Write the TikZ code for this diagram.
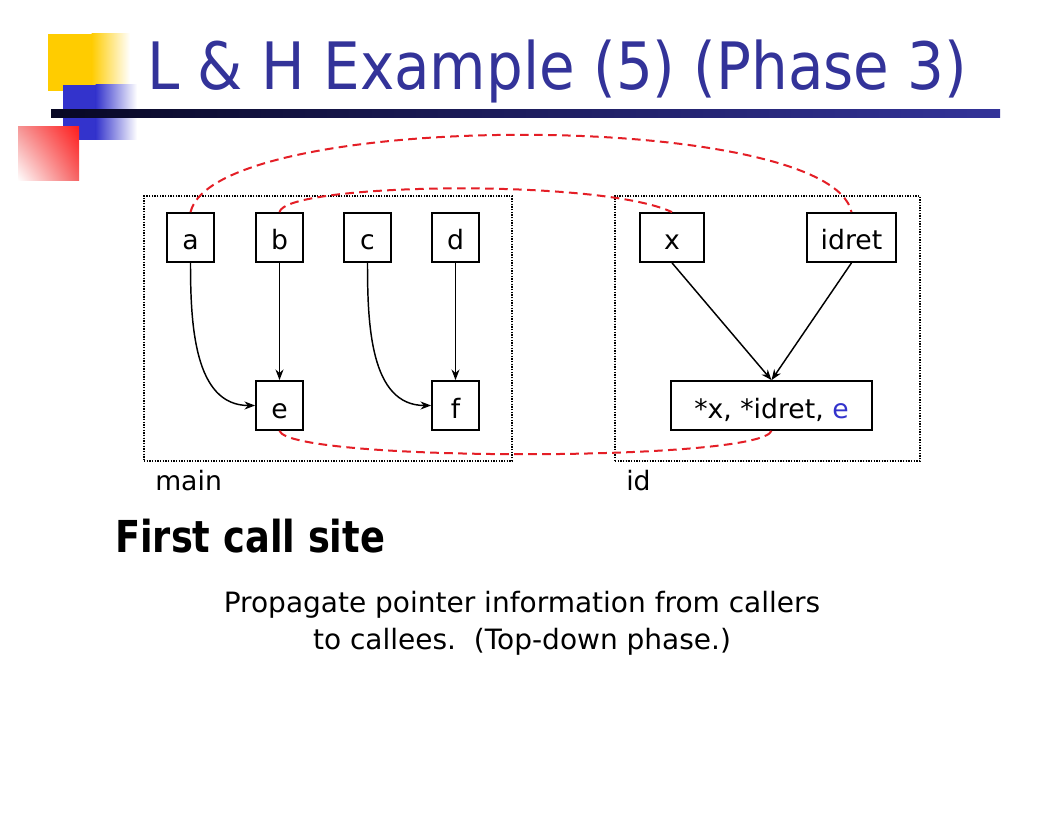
\documentclass[tikz,border=0pt]{standalone}
\usepackage{fontspec}
\setmainfont{DejaVu Sans}
\usetikzlibrary{arrows.meta,shadings}
\definecolor{titleblue}{HTML}{333399}
\definecolor{eblue}{HTML}{3333CC}
\definecolor{logoyellow}{HTML}{FFCC00}
\definecolor{logoblue}{HTML}{3333CC}
\definecolor{dashred}{HTML}{E41E26}
\definecolor{redul}{RGB}{245,150,150}
\definecolor{redur}{RGB}{255,30,30}
\definecolor{redlr}{RGB}{245,100,100}
\definecolor{linedark}{RGB}{8,8,36}
\tikzset{
  box/.style={draw, line width=1.3pt, inner sep=0pt, minimum width=35.25pt, minimum height=36.75pt,
    text height=19pt, text depth=0.25pt, font=\fontsize{20}{24}\selectfont},
  container/.style={draw, line width=1.1pt, dash pattern=on 1.1pt off 0.9pt, inner sep=0pt, minimum height=198.75pt},
  arr/.style={line width=1.1pt, -{Stealth[length=8pt,width=6pt]}},
  reddash/.style={draw=dashred, line width=1.5pt, dash pattern=on 6.5pt off 4pt},
  label/.style={font=\fontsize{20}{24}\selectfont, inner sep=0pt, anchor=base west}
}
\begin{document}
\begin{tikzpicture}[x=0.75pt,y=-0.75pt]
\useasboundingbox[fill=white] (0,0) rectangle (1056,816);

% logo
\fill[logoyellow] (48,34) rectangle (92,91);
\shade[left color=logoyellow, right color=white] (91.5,34) rectangle (130,91);
\fill[logoblue] (63,85) rectangle (96,140);
\shade[left color=logoblue, right color=white] (95.5,85) rectangle (137,140);
\shade[upper left=redul, upper right=redur, lower left=white, lower right=redlr] (18,127) rectangle (79,181);
\shade[left color=linedark, right color=titleblue] (51,110) rectangle (1000,118);

% title
\node[inner sep=0pt, anchor=base west, xscale=0.887, text=titleblue, font=\fontsize{49}{58}\selectfont] (title) at (147,90) {L \& H Example (5) (Phase 3)};

% containers
\node[container, minimum width=276pt] (mainbox) at (328,328.5) {};
\node[container, minimum width=228.75pt] (idbox) at (767.5,328.5) {};
\node[label] (mainlbl) at (155,490) {main};
\node[label] (idlbl) at (626,490) {id};

% nodes
\node[box] (a) at (190.5,237.5) {a};
\node[box] (b) at (279.5,237.5) {b};
\node[box] (c) at (367.5,237.5) {c};
\node[box] (d) at (455.5,237.5) {d};
\node[box] (e) at (279.5,405.5) {e};
\node[box] (f) at (455.5,405.5) {f};
\node[box, minimum width=48pt] (x) at (672,237.5) {x};
\node[box, minimum width=66.75pt] (idret) at (851.5,237.5) {idret};
\node[box, minimum width=150.75pt] (s) at (771.5,405.5) {*x, *idret, \textcolor{eblue}{e}};

% arrows
\draw[arr] (a.south) to[out=-90,in=180] (e.west);
\draw[arr] (b.south) -- (e.north);
\draw[arr] (c.south) to[out=-90,in=180] (f.west);
\draw[arr] (d.south) -- (f.north);
\draw[arr] (x.south) -- (s.north);
\draw[arr] (idret.south) -- (s.north);

% dashed links
\draw[reddash] (a.north) .. controls (215,109) and (830,109) .. (idret.north);
\draw[reddash] (b.north) .. controls (285,183) and (600,178) .. (x.north);
\draw[reddash] (e.south) .. controls (290,462) and (760,462) .. (s.south);

% texts
\node[inner sep=0pt, anchor=base west, xscale=0.836, font=\bfseries\fontsize{33}{40}\selectfont] (fcs) at (115,552) {First call site};
\node[inner sep=0pt, anchor=base, font=\fontsize{21}{25}\selectfont] (l1) at (522,612) {Propagate pointer information from callers};
\node[inner sep=0pt, anchor=base, font=\fontsize{21}{25}\selectfont] (l2) at (522,649) {to callees.\ \ (Top-down phase.)};
\end{tikzpicture}
\end{document}
